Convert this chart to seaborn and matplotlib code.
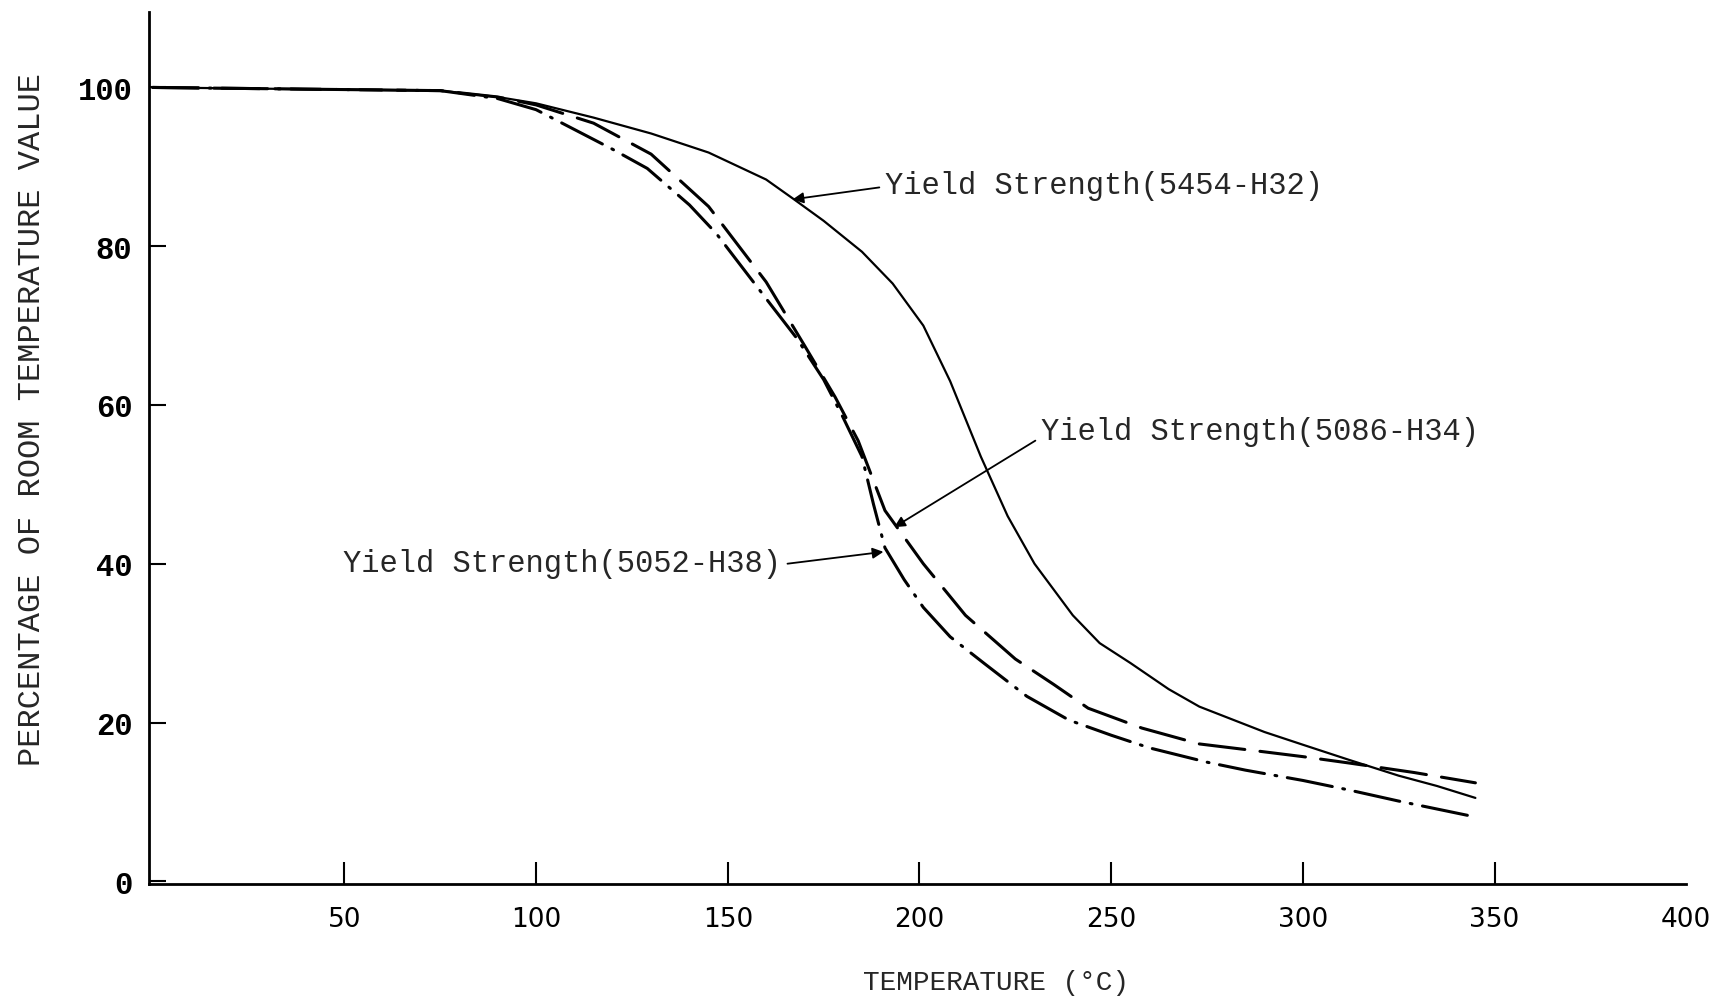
import matplotlib
matplotlib.use('Agg')
import matplotlib.pyplot as plt
import seaborn as sns

# Yield strength (% of room temperature value) vs temperature (deg C)
temp_5454 = [0, 75, 90, 100, 115, 130, 145, 160, 167, 175, 185, 193, 201, 208, 216, 223, 230, 240, 247,
             255, 265, 273, 290, 300, 312, 325, 335, 345]
pct_5454 = [100, 99.6, 98.8, 98.0, 96.2, 94.2, 91.8, 88.4, 86.0, 83.2, 79.3, 75.3, 70.0, 63.0, 53.5, 46.0,
            40.0, 33.5, 30.0, 27.5, 24.2, 22.0, 18.8, 17.2, 15.3, 13.3, 12.0, 10.5]

temp_5086 = [0, 75, 90, 100, 115, 130, 145, 160, 170, 178, 184, 191, 201, 212, 225, 235, 244, 258, 273,
             290, 300, 312, 329, 345]
pct_5086 = [100, 99.6, 98.8, 97.8, 95.5, 91.6, 85.0, 75.5, 67.5, 61.0, 55.5, 46.7, 40.0, 33.5, 28.0,
            24.8, 21.8, 19.3, 17.3, 16.3, 15.7, 14.9, 13.7, 12.4]

temp_5052 = [0, 75, 90, 100, 108, 120, 129, 140, 147, 160, 168, 175, 180, 185, 188, 191, 196, 201, 208,
             217, 228, 239, 250, 260, 275, 285, 300, 312, 325, 335, 344]
pct_5052 = [100, 99.6, 98.6, 97.2, 95.2, 92.2, 89.8, 85.2, 81.6, 73.4, 68.4, 63.2, 58.5, 53.5, 47.5,
            42.0, 38.0, 34.5, 30.8, 27.4, 23.3, 20.3, 18.4, 16.8, 15.0, 14.0, 12.7, 11.5, 10.1, 9.1, 8.2]

x_ticks = [50, 100, 150, 200, 250, 300, 350, 400]
y_ticks = [0, 20, 40, 60, 80, 100]

sns.set_style('white')
plt.rcParams['font.family'] = ['Liberation Mono', 'DejaVu Sans']

fig = plt.figure(figsize=(17.17, 10.03), dpi=100)
ax = fig.add_axes([0.0867, 0.118, 0.8954, 0.869])

sns.lineplot(x=temp_5454, y=pct_5454, ax=ax, color='black', lw=1.6, sort=False, estimator=None)
sns.lineplot(x=temp_5086, y=pct_5086, ax=ax, color='black', lw=2.2, sort=False, estimator=None,
             linestyle=(0, (15, 5)))
sns.lineplot(x=temp_5052, y=pct_5052, ax=ax, color='black', lw=2.2, sort=False, estimator=None,
             linestyle=(0, (15, 3.5, 0.6, 3.5)))
for line in ax.lines:
    line.set_dash_capstyle('round')
    line.set_solid_joinstyle('round')

ax.set_xlim(-1, 400)
ax.set_ylim(-0.3, 109.5)

for side in ['top', 'right']:
    ax.spines[side].set_visible(False)
for side in ['left', 'bottom']:
    ax.spines[side].set_linewidth(2.0)
    ax.spines[side].set_color('black')

ax.set_xticks(x_ticks)
ax.set_yticks(y_ticks)
ax.tick_params(axis='x', bottom=True, direction='in', length=16, width=1.5, pad=16, colors='black')
ax.tick_params(axis='y', left=True, direction='in', length=12, width=1.5, pad=12, colors='black')
ax.set_xticklabels([str(t) for t in x_ticks], family=['Liberation Sans Narrow', 'DejaVu Sans'], fontsize=19)
ax.set_yticklabels([str(t) for t in y_ticks], family=['Liberation Mono', 'DejaVu Sans Mono'],
                   fontweight='bold', fontsize=22)
# the end of the axis (400) carries a label but no tick mark
ax.xaxis.get_major_ticks()[-1].tick1line.set_visible(False)

ax.set_xlabel('TEMPERATURE (°C)', fontsize=20, family=['Liberation Mono', 'DejaVu Sans'])
ax.xaxis.set_label_coords(0.551, -0.098)
ax.set_ylabel('PERCENTAGE OF ROOM TEMPERATURE VALUE', fontsize=23, family=['Liberation Mono', 'DejaVu Sans'])
ax.yaxis.set_label_coords(-0.066, 0.534)

arrow = dict(arrowstyle='-|>', color='black', lw=1.3, mutation_scale=16, shrinkA=2, shrinkB=0)
ax.annotate('Yield Strength(5454-H32)', xy=(166.9, 85.9), xytext=(191.1, 87.7), fontsize=22,
            ha='left', va='center', arrowprops=dict(arrow, relpos=(0, 0.45)))
ax.annotate('Yield Strength(5086-H34)', xy=(193.4, 44.6), xytext=(231.7, 56.7), fontsize=22,
            ha='left', va='center', arrowprops=dict(arrow, relpos=(0, 0.3)))
ax.annotate('Yield Strength(5052-H38)', xy=(190.6, 41.5), xytext=(164, 40.1), fontsize=22,
            ha='right', va='center', arrowprops=dict(arrow, relpos=(1, 0.45)))

fig.savefig('out.png', dpi=100)
